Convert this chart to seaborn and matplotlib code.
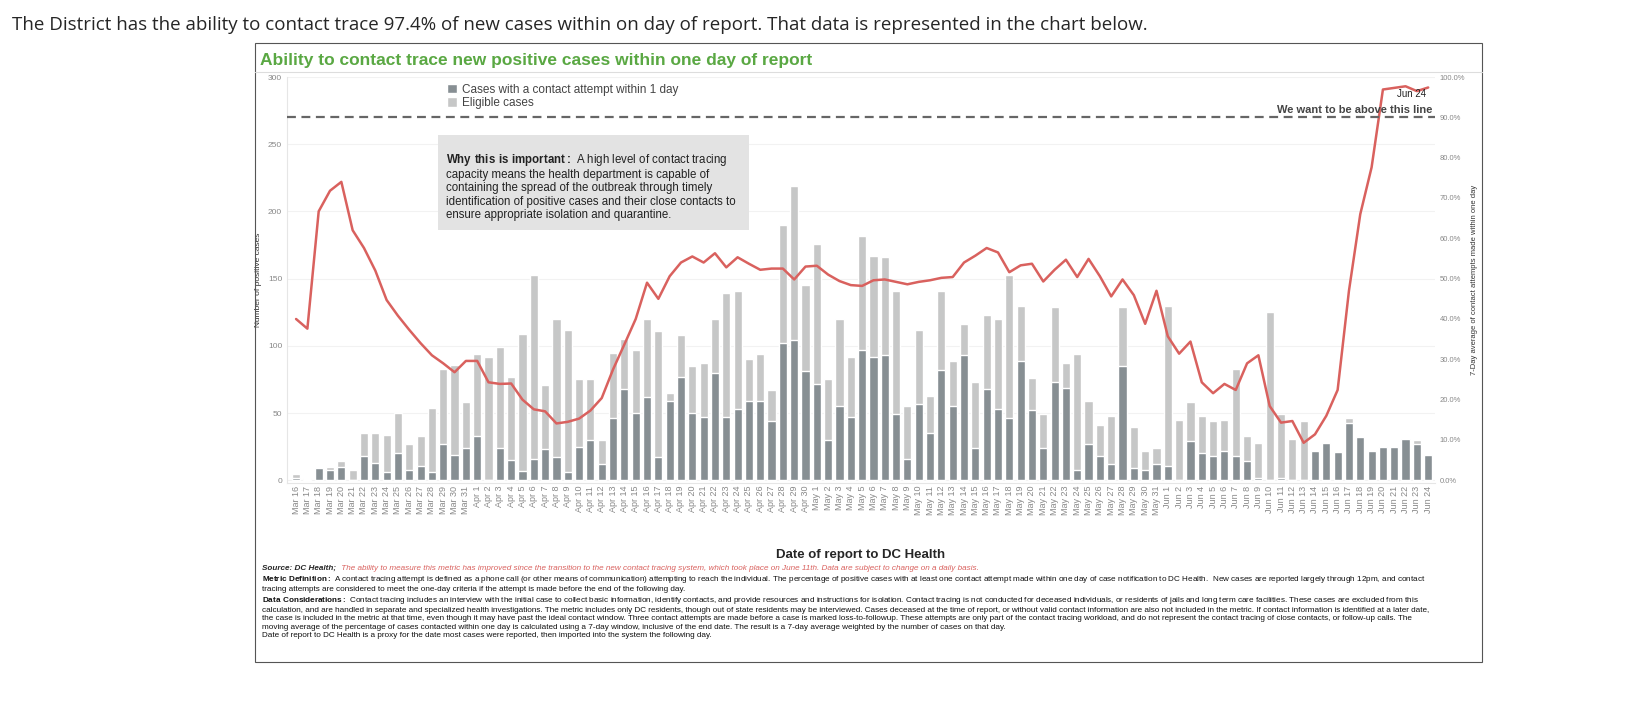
import matplotlib
matplotlib.use("Agg")
import matplotlib.pyplot as plt
import seaborn as sns
import numpy as np
import pandas as pd
from matplotlib.patches import Rectangle

dates = ([f"Mar {d}" for d in range(16, 32)] + [f"Apr {d}" for d in range(1, 31)]
         + [f"May {d}" for d in range(1, 32)] + [f"Jun {d}" for d in range(1, 25)])

eligible = [5, 2, 9, 10, 14, 8, 35, 35, 34, 50, 27, 33, 54, 83, 86, 58,
            94, 92, 99, 77, 109, 153, 71, 120, 112, 75, 75, 30, 95, 105, 97, 120, 111, 65, 108, 85,
            87, 120, 139, 141, 90, 94, 67, 190, 219, 145,
            176, 75, 120, 92, 182, 167, 166, 141, 55, 112, 63, 141, 89, 116, 73, 123, 120, 153, 130, 76,
            49, 129, 87, 94, 59, 41, 48, 129, 40, 22, 24,
            130, 45, 58, 48, 44, 45, 83, 33, 28, 125, 49, 31, 44, 22, 28, 21, 46, 32, 22, 25, 25, 31, 30, 19]
contacted = [2, 1, 9, 8, 10, 0, 18, 13, 6, 20, 8, 11, 6, 27, 19, 24,
             33, 0, 24, 15, 7, 16, 23, 17, 6, 25, 30, 12, 46, 68, 50, 62, 17, 59, 77, 50,
             47, 80, 47, 53, 59, 59, 44, 102, 104, 81,
             72, 30, 55, 47, 97, 92, 93, 49, 16, 57, 35, 82, 55, 93, 24, 68, 53, 46, 89, 52,
             24, 73, 69, 8, 27, 18, 12, 85, 9, 8, 12,
             11, 0, 29, 20, 18, 22, 18, 14, 2, 0, 2, 0, 0, 22, 28, 21, 43, 32, 22, 25, 25, 31, 27, 19]
pct_7day = [40, 37.6, 66.7, 71.8, 74, 62, 57.6, 52, 44.7, 40.8, 37.3, 34, 31, 29, 26.8, 29.6,
            29.6, 24.3, 23.9, 24, 20, 17.6, 17.1, 14.1, 14.5, 15.3, 17.3, 20.4, 27.5, 33.7, 40, 49, 45, 50.6, 54, 55.5,
            54, 56.3, 52.8, 55.3, 53.7, 52.2, 52.5, 52.5, 49.8, 53,
            53.2, 51, 49.4, 48.4, 48.2, 49.6, 49.8, 49.2, 48.6, 49.2, 49.6, 50.2, 50.4, 54, 55.7, 57.6, 56.5, 51.6, 53.3, 53.7,
            49.3, 52.2, 54.7, 50.4, 54.9, 50.6, 45.6, 49.8, 45.9, 38.8, 47,
            35.7, 31.4, 34.4, 24.3, 21.6, 23.9, 22.4, 29, 31, 18.4, 14.3, 14.7, 9.3, 11.4, 16, 22.4, 47, 66, 77.6,
            96.9, 97.3, 97.7, 96.5, 97.4]

df = pd.DataFrame({"date": dates, "eligible": eligible, "contacted": contacted,
                   "pct": pct_7day, "idx": np.arange(len(dates))})

sns.set_style("white")
plt.rcParams['font.family'] = ['Liberation Sans', 'DejaVu Sans']
plt.rcParams['mathtext.fontset'] = 'custom'
plt.rcParams['mathtext.rm'] = 'Liberation Sans'
plt.rcParams['mathtext.bf'] = 'Liberation Sans:bold'

fig = plt.figure(figsize=(16.42, 7.02), dpi=100)
fig.patches.append(Rectangle((255/1642, 1-662/702), (1482-255)/1642, (662-43)/702,
                             transform=fig.transFigure, fill=False, edgecolor='#555555', lw=0.8))
fig.text(12/1642, 1-25/702, "The District has the ability to contact trace 97.4% of new cases within on day of report. That data is represented in the chart below.",
         fontsize=13.5, va='center', ha='left', family=['Open Sans', 'DejaVu Sans'])
fig.text(260/1642, 1-60/702, "Ability to contact trace new positive cases within one day of report",
         fontsize=12.5, fontweight='bold', color='#5aa843', va='center')
fig.lines.append(plt.Line2D([255/1642, 1482/1642], [1-72/702]*2, transform=fig.transFigure, color='#dddddd', lw=0.8))

ax = fig.add_axes([287/1642, 1-483/702, (1435-287)/1642, (483-77)/702])
sns.barplot(data=df, x="date", y="eligible", color='#c6c7c7', saturation=1, width=0.72, ax=ax, label="Eligible cases")
sns.barplot(data=df, x="date", y="contacted", color='#878f93', saturation=1, width=0.72, ax=ax,
            label="Cases with a contact attempt within 1 day")
ax.set_ylim(-2, 300)
ax.set_xlim(-0.8, len(dates) - 0.4)
ax.set_yticks([0, 50, 100, 150, 200, 250, 300])
ax.tick_params(axis='y', labelsize=6, colors='#888888', length=0)
ax.tick_params(axis='x', labelsize=6.5, labelrotation=90, colors='#888888', length=0, pad=2)
ax.yaxis.grid(True, color='#f2f2f2', lw=0.8)
ax.set_axisbelow(True)
for s in ['top', 'right']:
    ax.spines[s].set_visible(False)
ax.spines['left'].set_color('#e6e6e6')
ax.spines['bottom'].set_color('#e6e6e6')
ax.set_ylabel("Number of positive cases", fontsize=6, color='#333333')
ax.set_xlabel("Date of report to DC Health", fontsize=9.5, fontweight='bold', labelpad=24)
h, l = ax.get_legend_handles_labels()
ax.legend(h[::-1], l[::-1], loc='upper left', bbox_to_anchor=(0.13, 1.01), frameon=False, fontsize=8.5,
          handlelength=0.9, handleheight=0.9, handletextpad=0.4, labelspacing=0.15, labelcolor='#444444')

ax.add_patch(Rectangle((12.5, 186), 27.5, 71, facecolor='#e3e3e3', edgecolor='none', zorder=1))
ax.text(13.2, 244, r"$\bf{Why\ this\ is\ important:}$ A high level of contact tracing" "\n"
        "capacity means the health department is capable of\ncontaining the spread of the outbreak through timely\n"
        "identification of positive cases and their close contacts to\nensure appropriate isolation and quarantine.",
        fontsize=8.3, va='top', ha='left', color='#222222', linespacing=1.12, zorder=2)

ax2 = ax.twinx()
sns.lineplot(data=df, x="idx", y="pct", color='#d9615e', lw=1.8, ax=ax2)
ax2.set_ylim(-2/3, 100)
ax2.set_yticks(np.arange(0, 101, 10))
ax2.set_yticklabels([f"{v:.1f}%" for v in np.arange(0, 101, 10)])
ax2.tick_params(axis='y', labelsize=5.5, colors='#888888', length=0)
ax2.set_ylabel("7-Day average of contact attempts made within one day", fontsize=5.5, color='#333333')
for s in ax2.spines.values():
    s.set_visible(False)
ax2.axhline(90, color='#666666', ls=(0, (4, 2.5)), lw=1.6)
ax2.text(len(dates) - 0.6, 90.6, "We want to be above this line", ha='right', va='bottom', fontsize=8,
         fontweight='bold', color='#444444')
ax2.text(len(dates) - 1.2, 94.5, "Jun 24", ha='right', va='bottom', fontsize=7, color='#222222')

src = fig.text(262/1642, 1-568/702, "Source: DC Health;", fontsize=5.9, fontweight='bold', style='italic', va='center')
fig.text(0, 0, " The ability to measure this metric has improved since the transition to the new contact tracing system, which took place on June 11th. Data are subject to change on a daily basis.",
         fontsize=5.9, style='italic', color='#d9615e', va='center',
         transform=matplotlib.transforms.offset_copy(src.get_transform(), fig=fig, x=0, y=0))
fig.canvas.draw()
bb = src.get_window_extent()
fig.texts[-1].set_transform(fig.transFigure)
fig.texts[-1].set_position((bb.x1 / fig.bbox.width + 0.002, 1-568/702))

body = ("$\\bf{Metric\\ Definition:}$ A contact tracing attempt is defined as a phone call (or other means of communication) attempting to reach the individual. The percentage of positive cases with at least one contact attempt made within one day of case notification to DC Health.  New cases are reported largely through 12pm, and contact\n"
        "tracing attempts are considered to meet the one-day criteria if the attempt is made before the end of the following day.\n"
        "$\\bf{Data\\ Considerations:}$ Contact tracing includes an interview with the initial case to collect basic information, identify contacts, and provide resources and instructions for isolation. Contact tracing is not conducted for deceased individuals, or residents of jails and long term care facilities. These cases are excluded from this\n"
        "calculation, and are handled in separate and specialized health investigations. The metric includes only DC residents, though out of state residents may be interviewed. Cases deceased at the time of report, or without valid contact information are also not included in the metric. If contact information is identified at a later date,\n"
        "the case is included in the metric at that time, even though it may have past the ideal contact window. Three contact attempts are made before a case is marked loss-to-followup. These attempts are only part of the contact tracing workload, and do not represent the contact tracing of close contacts, or follow-up calls. The\n"
        "moving average of the percentage of cases contacted within one day is calculated using a 7-day window, inclusive of the end date. The result is a 7-day average weighted by the number of cases on that day.\n"
        "Date of report to DC Health is a proxy for the date most cases were reported, then imported into the system the following day.")
fig.text(262/1642, 1-574/702, body, fontsize=5.9, va='top', ha='left', linespacing=1.25, color='#111111')

fig.savefig("out.png", dpi=100)
